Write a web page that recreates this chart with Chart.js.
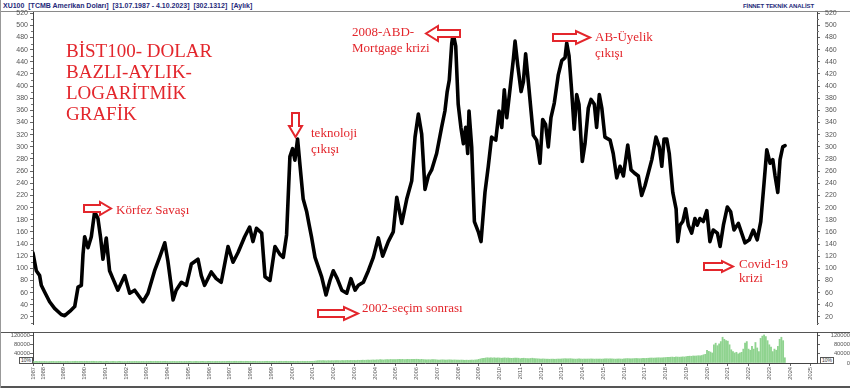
<!DOCTYPE html>
<html>
<head>
<meta charset="utf-8">
<script src="https://cdn.jsdelivr.net/npm/chart.js@4"></script>
<style>
  html,body{margin:0;padding:0;background:#fff;}
  #wrap{position:relative;width:850px;height:388px;overflow:hidden;background:#fff;font-family:"Liberation Sans",Arial,sans-serif;}
  canvas{position:absolute;left:0;}
  .hl{position:absolute;left:0;width:850px;}
  .hdr{position:absolute;font-weight:bold;color:#1f2a7a;white-space:nowrap;}
  .ann{position:absolute;font-family:"Liberation Serif","Times New Roman",serif;color:#e3262c;white-space:nowrap;}
  .box{position:absolute;border:1px solid #555;font-size:5px;line-height:5px;color:#333;padding:0 1px;background:#fff;}
</style>
</head>
<body>
<div id="wrap">
  <div class="hl" style="top:11px;height:1px;background:#8a8a8a;"></div>
  <div class="hl" style="top:332px;height:1px;background:#555;"></div>
  <div class="hl" style="top:386px;height:2px;background:#555;"></div>
  <div style="position:absolute;left:0;top:0;width:1px;height:388px;background:#999;"></div>
  <div class="hdr" style="left:3px;top:1px;font-size:7px;line-height:9px;">XU100&nbsp; [TCMB Amerikan Doları]&nbsp; [31.07.1987 - 4.10.2023]&nbsp; [302.1312]&nbsp; [Aylık]</div>
  <div class="hdr" style="left:743px;top:2px;font-size:6px;line-height:8px;letter-spacing:-0.1px;">FİNNET TEKNİK ANALİST</div>

  <canvas id="main" width="850" height="334" style="top:0;"></canvas>
  <canvas id="vol" width="850" height="66" style="top:322px;"></canvas>

  <div class="box" style="left:19px;top:357px;">10%</div>
  <div class="box" style="left:820px;top:357px;">10%</div>

  <div class="ann" style="left:66px;top:40px;font-size:19px;line-height:21px;">BİST100- DOLAR<br>BAZLI-AYLIK-<br>LOGARİTMİK<br>GRAFİK</div>
  <div class="ann" style="left:116px;top:202px;font-size:13px;line-height:15px;">Körfez Savaşı</div>
  <div class="ann" style="left:311px;top:125px;font-size:13px;line-height:16px;">teknoloji<br>çıkışı</div>
  <div class="ann" style="left:362px;top:300px;font-size:13px;line-height:15px;">2002-seçim sonrası</div>
  <div class="ann" style="left:352px;top:24px;font-size:13px;line-height:16px;">2008-ABD-<br>Mortgage krizi</div>
  <div class="ann" style="left:595px;top:29px;font-size:13px;line-height:16px;">AB-Üyelik<br>çıkışı</div>
  <div class="ann" style="left:739px;top:257px;font-size:13px;line-height:14px;">Covid-19<br>krizi</div>

  <svg width="850" height="388" style="position:absolute;left:0;top:0;pointer-events:none;">
    <g fill="#fff" stroke="#e3262c" stroke-width="2" stroke-linejoin="miter">
      <path d="M84,205 L100,205 L100,202 L111,208.5 L100,215 L100,212 L84,212 Z"/>
      <path d="M292,113 L299,113 L299,126 L302,126 L295.5,137 L289,126 L292,126 Z"/>
      <path d="M318,310 L344,310 L344,307 L358,313.5 L344,320 L344,317 L318,317 Z"/>
      <path d="M460,30 L438,30 L438,26 L426,33.5 L438,41 L438,37 L460,37 Z"/>
      <path d="M553,34 L576,34 L576,31 L590,37.5 L576,44 L576,41 L553,41 Z"/>
      <path d="M704,263 L722,263 L722,261 L733,266.5 L722,272 L722,270 L704,270 Z"/>
    </g>
  </svg>
</div>

<script>
// ---------------- DATA ----------------
const priceDates = [
  1987.52,1987.68,1987.84,1987.92,1988.08,1988.32,1988.56,1988.88,1989.05,1989.29,1989.53,1989.69,1989.85,1989.93,
  1990.01,1990.17,1990.33,1990.49,1990.65,1990.78,1990.89,1991.05,1991.21,1991.37,1991.61,1991.94,
  1992.18,1992.42,1992.82,1993.06,1993.38,1993.62,1993.87,1994.02,1994.27,1994.42,1994.67,1994.91,
  1995.15,1995.47,1995.63,1995.79,1996.11,1996.35,1996.59,1996.92,1997.16,1997.40,1997.72,1997.96,
  1998.12,1998.29,1998.54,1998.70,1998.94,1999.18,1999.42,1999.58,1999.74,1999.90,
  2000.03,2000.14,2000.27,2000.39,2000.54,2000.71,2000.83,2000.95,2001.11,2001.27,2001.43,2001.64,2001.83,2001.99,
  2002.18,2002.40,2002.64,2002.84,2003.04,2003.20,2003.44,2003.68,2003.92,2004.16,2004.37,2004.64,2004.88,
  2005.05,2005.29,2005.53,2005.77,2005.93,2006.09,2006.25,2006.41,2006.57,2006.73,2006.97,
  2007.21,2007.37,2007.48,2007.58,2007.70,2007.77,2007.89,2008.01,2008.14,2008.26,2008.37,2008.47,2008.53,2008.66,2008.79,2008.98,
  2009.11,2009.30,2009.46,2009.62,2009.82,2009.98,2010.11,2010.23,2010.35,2010.51,2010.67,2010.75,2010.88,
  2011.04,2011.15,2011.26,2011.39,2011.52,2011.63,2011.79,2011.95,2012.08,2012.22,2012.35,2012.48,2012.64,2012.83,
  2013.00,2013.16,2013.24,2013.35,2013.48,2013.60,2013.72,2013.83,2013.99,2014.12,2014.28,2014.41,2014.57,2014.68,2014.81,2014.93,
  2015.08,2015.33,2015.48,2015.65,2015.81,2015.97,2016.18,2016.34,2016.50,2016.69,2016.85,2017.01,
  2017.34,2017.54,2017.70,2017.82,2017.93,2018.06,2018.18,2018.35,2018.51,2018.59,2018.70,2018.83,2018.97,
  2019.10,2019.26,2019.42,2019.53,2019.66,2019.82,2019.99,2020.14,2020.30,2020.50,2020.63,2020.79,2020.98,
  2021.14,2021.30,2021.51,2021.67,2021.83,2022.04,2022.23,2022.42,2022.59,2022.75,2022.88,
  2023.04,2023.17,2023.28,2023.41,2023.52,2023.65,2023.76
];
const priceValues = [
  125,96,88,72,61,45,34,24,22,29,37,69,72,123,
  152,134,152,193,182,150,115,150,96,83,64,88,
  59,64,45,59,96,118,142,112,48,64,77,72,
  107,115,88,72,94,83,77,136,110,126,152,168,
  144,166,158,86,80,136,123,118,155,284,
  297,278,313,268,214,193,171,150,118,102,86,56,80,96,
  83,64,59,83,64,72,77,96,118,150,120,144,160,
  217,174,214,244,316,354,321,230,252,262,289,
  332,359,391,410,471,486,466,370,332,305,332,289,359,300,177,160,
  144,225,268,316,311,359,332,394,348,396,445,474,434,
  391,407,453,407,359,319,311,273,345,337,300,348,372,418,
  442,447,471,450,391,329,386,370,276,305,364,378,370,332,386,364,
  316,311,289,249,268,252,303,262,257,252,220,236,
  279,316,300,268,313,313,289,225,198,144,171,177,198,
  171,158,182,171,182,177,195,144,163,158,136,171,201,
  193,163,174,158,142,147,163,147,177,241,295,
  273,279,252,225,279,300,302
];

// monthly volume, first bar = July 1987
const volumeStartYear = 1987;
const volumeStartMonth = 7;
const volumeValues = [
  6500,6000,7000,6500,7000,6500,                                   // 1987
  6500,7000,6500,6000,6500,7000,7000,6500,6500,7000,7000,6500,    // 1988
  6500,7000,7000,6500,6500,7000,7000,7500,7000,7000,7500,7000,    // 1989
  7500,7500,7000,7000,7500,7500,7000,7000,6500,7000,7000,6500,    // 1990
  7000,7000,6500,6500,7000,7000,6500,6500,7000,7000,6500,6500,    // 1991
  6500,7000,7000,6500,6500,7000,7000,6500,6500,7000,7000,6500,    // 1992
  7000,7000,7500,7000,7000,7500,7000,7000,7500,7000,7000,7500,    // 1993
  7000,6500,6500,7000,7000,6500,6500,7000,7000,6500,7000,7000,    // 1994
  7000,7000,6500,6500,7000,7000,6500,7000,7000,7000,6500,7000,    // 1995
  7000,7000,7000,6500,7000,7000,7000,6500,7000,7000,7000,7500,    // 1996
  7500,7000,7000,7500,7500,7000,7500,7500,7000,7500,7500,7000,    // 1997
  7500,7000,7000,7500,7000,7000,6500,7000,7000,7000,7500,7000,    // 1998
  7000,7500,7000,7500,7000,7500,7500,7000,7500,7500,7000,7500,    // 1999
  7500,7500,7000,7500,7000,7000,7500,7000,7000,7500,7000,7000,    // 2000
  7500,8000,9000,10000,10500,10000,10500,10000,9500,10500,10000,10500, // 2001
  10000,10500,11000,10500,10000,11000,10500,11000,11500,11000,11500,11000, // 2002
  11500,11000,12000,11500,12000,12500,12000,12500,13000,12500,13000,13500, // 2003
  13000,14000,13500,15000,14000,13500,14500,15000,14500,15500,15000,15500, // 2004
  15000,15500,16000,15500,16000,15000,15500,16000,15500,16000,16500,16000, // 2005
  16500,16000,15500,16000,15000,14500,14000,14500,14000,14500,15000,14500, // 2006
  13500,13000,13500,14000,13500,13000,13500,14000,13500,13000,13500,13000, // 2007
  13000,12500,13000,12500,12000,12500,12000,12500,13000,12500,13500,14000, // 2008
  16000,18000,20000,21000,22000,23000,22000,23000,22000,23000,22000,22500, // 2009
  22000,21000,22000,22500,21500,22000,21000,20500,21000,22000,21500,21000, // 2010
  19000,20000,21000,20000,19500,19000,20000,21000,19500,19000,18500,18000, // 2011
  17500,18000,17500,17000,17000,16500,17000,17000,16500,17000,17500,17000, // 2012
  18000,18500,19000,18000,18500,19000,18000,17500,17000,17500,18000,17500, // 2013
  17000,17500,17000,17500,17500,18000,17500,17000,17500,17000,17500,17000, // 2014
  17500,18000,18500,18000,18500,18000,17500,17000,17500,18000,17500,17000, // 2015
  18500,19000,19500,19000,18500,19000,19500,20000,19500,19000,19500,20000, // 2016
  20000,20500,21000,21500,22000,21500,22000,22500,23000,22500,23000,23500, // 2017
  24000,25000,24500,25500,26000,25000,26500,26000,25500,26000,27000,26500, // 2018
  28000,29000,30000,29500,31000,30500,31000,32000,31500,33000,36000,38000, // 2019
  56000,51000,48000,44000,80000,87000,76000,84000,94000,113000,104000,98000, // 2020
  96000,80000,58000,50000,44000,47000,40000,44000,47000,61000,87000,94000,   // 2021
  61000,56000,73000,61000,90000,66000,50000,108000,118000,123000,116000,98000, // 2022
  80000,70000,50000,61000,56000,73000,104000,113000,98000,23000              // 2023
];

const priceTicks = [20,40,60,80,100,120,140,160,180,200,220,240,260,280,300,320,340,360,380,400,420,440,460,480,500,520];
const volumeTicks = [0,40000,80000,120000];
const yearTicks = [1987.52,1988,1989,1990,1991,1992,1993,1994,1995,1996,1997,1998,1999,2000,2001,2002,2003,2004,2005,2006,2007,2008,2009,2010,2011,2012,2013,2014,2015,2016,2017,2018,2019,2020,2021,2022,2023,2024,2025];
const yearLabels = ['1987','1988','1989','1990','1991','1992','1993','1994','1995','1996','1997','1998','1999','2000','2001','2002','2003','2004','2005','2006','2007','2008','2009','2010','2011','2012','2013','2014','2015','2016','2017','2018','2019','2020','2021','2022','2023','2024','2025'];

// ---------------- CHARTS ----------------
const X_MIN = 1987.52, X_MAX = 2025.30;
const AXIS_W = 33;
const FAMILY = '"Liberation Sans", Arial, sans-serif';

function yAxis(pos, min, max, ticksArr, opts){
  return {
    type:'linear', position:pos, min:min, max:max,
    afterBuildTicks: s => { s.ticks = ticksArr.map(v => ({value:v})); },
    afterFit: s => { s.width = AXIS_W; },
    grid:{drawOnChartArea:false, drawTicks:true, tickLength:3, color:'#666'},
    border:{display:true, color:'#444', width:1},
    ticks:{font:{family:FAMILY, size:opts.size}, color:'#555', padding:opts.padding, autoSkip:false,
           crossAlign: opts.crossAlign || 'near',
           callback: v => (opts.hideZero && v === 0) ? '' : String(v)}
  };
}

const minorTicks = {
  id:'minorTicks',
  afterDraw(chart){
    const ctx = chart.ctx, y = chart.scales.y, a = chart.chartArea;
    ctx.save(); ctx.strokeStyle = '#777'; ctx.lineWidth = 1;
    for (let v = 10; v <= 520; v += 20){
      const py = Math.round(y.getPixelForValue(v)) + 0.5;
      ctx.beginPath();
      ctx.moveTo(a.left - 2, py); ctx.lineTo(a.left, py);
      ctx.moveTo(a.right, py); ctx.lineTo(a.right + 2, py);
      ctx.stroke();
    }
    ctx.restore();
  }
};

new Chart(document.getElementById('main'), {
  type:'line',
  data:{datasets:[{
    data: priceDates.map((d,i) => ({x:d, y:priceValues[i]})),
    borderColor:'#000', borderWidth:3.6, pointRadius:0, tension:0,
    borderJoinStyle:'round', borderCapStyle:'round', yAxisID:'y'
  }]},
  options:{
    responsive:false, animation:false, devicePixelRatio:1,
    layout:{padding:{top:12, bottom:2, left:0, right:0}},
    plugins:{legend:{display:false}, tooltip:{enabled:false}},
    scales:{
      x:{type:'linear', min:X_MIN, max:X_MAX, display:false},
      y: yAxis('left', 7, 522, priceTicks, {size:7, padding:2}),
      y2: yAxis('right', 7, 522, priceTicks, {size:7, padding:5})
    }
  },
  plugins:[minorTicks]
});

new Chart(document.getElementById('vol'), {
  type:'bar',
  data:{datasets:[{
    data: volumeValues.map((v,i) => ({x: volumeStartYear + (volumeStartMonth - 1 + i) / 12, y: v})),
    backgroundColor:'#8fd38f', borderWidth:0, barThickness:1.2, yAxisID:'y'
  }]},
  options:{
    responsive:false, animation:false, devicePixelRatio:1,
    layout:{padding:{top:10, bottom:0, left:0, right:0}},
    plugins:{legend:{display:false}, tooltip:{enabled:false}},
    scales:{
      x:{type:'linear', min:X_MIN, max:X_MAX, position:'bottom', offset:false,
         afterBuildTicks: s => { s.ticks = yearTicks.map(v => ({value:v})); },
         afterFit: s => { s.height = 25; },
         grid:{drawOnChartArea:false, offset:false, tickLength:3, color:'#666'},
         border:{display:true, color:'#444'},
         ticks:{font:{family:FAMILY, size:5.7}, color:'#555', padding:1, maxRotation:90, minRotation:90, autoSkip:false,
                callback: (v, i) => yearLabels[i]}
      },
      y: yAxis('left', 0, 136000, volumeTicks, {size:5.8, padding:0, hideZero:true}),
      y2: yAxis('right', 0, 136000, volumeTicks, {size:5.8, padding:5, crossAlign:'far'})
    }
  }
});
</script>
</body>
</html>
